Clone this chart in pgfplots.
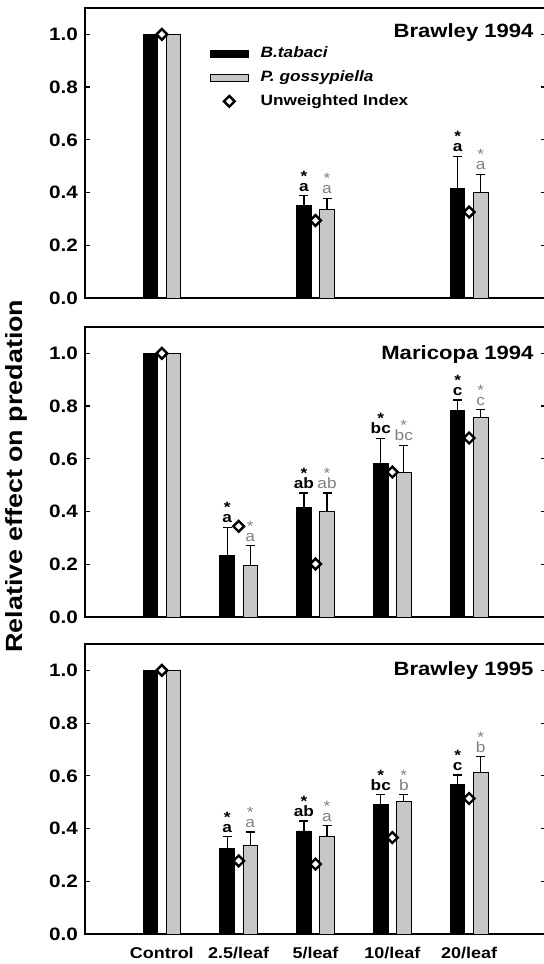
\documentclass[border=0pt]{standalone}
\usepackage{pgfplots}
\pgfplotsset{compat=1.18}
\usepackage{fontspec}
\setmainfont{Liberation Sans}[FakeStretch=1.15]
\definecolor{bargray}{gray}{0.78}
\definecolor{lettergray}{gray}{0.5}

\tikzset{ttl/.style={anchor=base east, font=\bfseries\fontsize{9.6}{11}\selectfont}}
\pgfplotsset{
  panel/.style={
    width=230.5pt, height=145pt, scale only axis,
    xmin=-1, xmax=5, ymin=0, ymax=1.1,
    axis line style={line width=0.8pt},
    tick align=inside,
    major tick length=2.5pt,
    ytick={0,0.2,0.4,0.6,0.8,1.0},
    yticklabels={0.0,0.2,0.4,0.6,0.8,1.0},
    yticklabel style={font=\bfseries\fontsize{9}{10}\selectfont},
    xtick=\empty,
    every tick/.style={black, line width=0.6pt},
    anchor=north west,
    clip=false,
  },
  barerr/.style={
    error bars/y dir=plus, error bars/y explicit,
    error bars/error bar style={line width=0.6pt, black},
    error bars/error mark options={rotate=90, mark size=2.25pt, line width=0.6pt, black},
  },
  blackbar/.style={ybar, bar width=7.25pt, bar shift=0pt, fill=black, draw=black, line width=0.4pt, barerr,
    legend image code/.code={\draw[fill=black,draw=black] (0pt,-1.75pt) rectangle (19pt,1.75pt);}},
  graybar/.style={ybar, bar width=7.25pt, bar shift=0pt, fill=bargray, draw=black, line width=0.4pt, barerr,
    legend image code/.code={\draw[fill=bargray,draw=black,line width=0.4pt] (0pt,-1.75pt) rectangle (19pt,1.75pt);}},
  idx/.style={only marks, mark=square*, mark size=1.9pt,
    mark options={rotate=45, fill=white, draw=black, line width=1.2pt},
    legend image code/.code={\draw[mark repeat=2,mark phase=2,##1] plot coordinates {(0pt,0pt)(9.5pt,0pt)(19pt,0pt)};}},
  annb/.style={forget plot, only marks, mark=none, point meta=explicit symbolic,
    nodes near coords={*\\[-3pt]\pgfplotspointmeta},
    nodes near coords style={anchor=south, inner sep=0pt, yshift=2pt, align=center,
      font=\bfseries\fontsize{7.5}{8}\selectfont, text=black}},
  anng/.style={forget plot, only marks, mark=none, point meta=explicit symbolic,
    nodes near coords={*\\[-3pt]\pgfplotspointmeta},
    nodes near coords style={anchor=south, inner sep=0pt, yshift=2pt, align=center,
      font=\fontsize{7.5}{8}\selectfont, text=lettergray}},
}

\begin{document}
\begin{tikzpicture}
% ---------------- Panel 1: Brawley 1994
\begin{axis}[panel, at={(0,0)},
  legend style={at={(0.27,0.875)}, anchor=north west, draw=none, fill=none,
    font=\bfseries\fontsize{7.5}{8}\selectfont, row sep=3pt, column sep=5pt, inner sep=0pt,
    nodes={inner sep=1pt}},
  legend cell align=left]
\addplot[blackbar] coordinates {(-0.15,1.0) +- (0,0) (1.85,0.350) +- (0,0.038) (3.85,0.417) +- (0,0.120)};
\addplot[graybar] coordinates {(0.15,1.0) +- (0,0) (2.15,0.336) +- (0,0.042) (4.15,0.400) +- (0,0.069)};
\addplot[idx] coordinates {(0,1.0) (2,0.294) (4,0.326)};
\legend{\textit{B.tabaci},\textit{P. gossypiella},Unweighted Index}
\addplot[annb] coordinates {(1.85,0.388)[a] (3.85,0.537)[a]};
\addplot[anng] coordinates {(2.15,0.378)[a] (4.15,0.469)[a]};
\node[ttl] at (axis cs:4.93,0.99) {Brawley 1994};
\end{axis}
% ---------------- Panel 2: Maricopa 1994
\begin{axis}[panel, at={(0,-159.5pt)}]
\addplot[blackbar] coordinates {(-0.15,1.0) +- (0,0) (0.85,0.234) +- (0,0.107) (1.85,0.414) +- (0,0.056) (2.85,0.582) +- (0,0.096) (3.85,0.785) +- (0,0.038)};
\addplot[graybar] coordinates {(0.15,1.0) +- (0,0) (1.15,0.194) +- (0,0.076) (2.15,0.399) +- (0,0.071) (3.15,0.549) +- (0,0.102) (4.15,0.758) +- (0,0.028)};
\addplot[idx] coordinates {(0,1.0) (1,0.344) (2,0.201) (3,0.550) (4,0.679)};
\addplot[annb] coordinates {(0.85,0.341)[a] (1.85,0.470)[ab] (2.85,0.678)[bc] (3.85,0.823)[c]};
\addplot[anng] coordinates {(1.15,0.270)[a] (2.15,0.470)[ab] (3.15,0.651)[bc] (4.15,0.786)[c]};
\node[ttl] at (axis cs:4.93,0.977) {Maricopa 1994};
\end{axis}
% ---------------- Panel 3: Brawley 1995
\begin{axis}[panel, at={(0,-318pt)},
  xtick={0,1,2,3,4},
  xticklabels={Control,2.5/leaf,5/leaf,10/leaf,20/leaf},
  xticklabel style={font=\bfseries\fontsize{7.8}{9}\selectfont, yshift=-3pt},
  xtick style={draw=none}]
\addplot[blackbar] coordinates {(-0.15,1.0) +- (0,0) (0.85,0.326) +- (0,0.043) (1.85,0.391) +- (0,0.038) (2.85,0.491) +- (0,0.037) (3.85,0.569) +- (0,0.034)};
\addplot[graybar] coordinates {(0.15,1.0) +- (0,0) (1.15,0.338) +- (0,0.049) (2.15,0.372) +- (0,0.039) (3.15,0.503) +- (0,0.025) (4.15,0.613) +- (0,0.059)};
\addplot[idx] coordinates {(0,1.0) (1,0.277) (2,0.265) (3,0.366) (4,0.514)};
\addplot[annb] coordinates {(0.85,0.369)[a] (1.85,0.429)[ab] (2.85,0.528)[bc] (3.85,0.603)[c]};
\addplot[anng] coordinates {(1.15,0.387)[a] (2.15,0.411)[a] (3.15,0.528)[b] (4.15,0.672)[b]};
\node[ttl] at (axis cs:4.93,0.981) {Brawley 1995};
\end{axis}
\node[rotate=90, font=\bfseries\fontsize{11.7}{13}\selectfont] at (-34.5pt,-234pt) {Relative effect on predation};
\pgfresetboundingbox
\useasboundingbox (-42.5pt,4pt) rectangle (229.5pt,-478pt);
\end{tikzpicture}
\end{document}
